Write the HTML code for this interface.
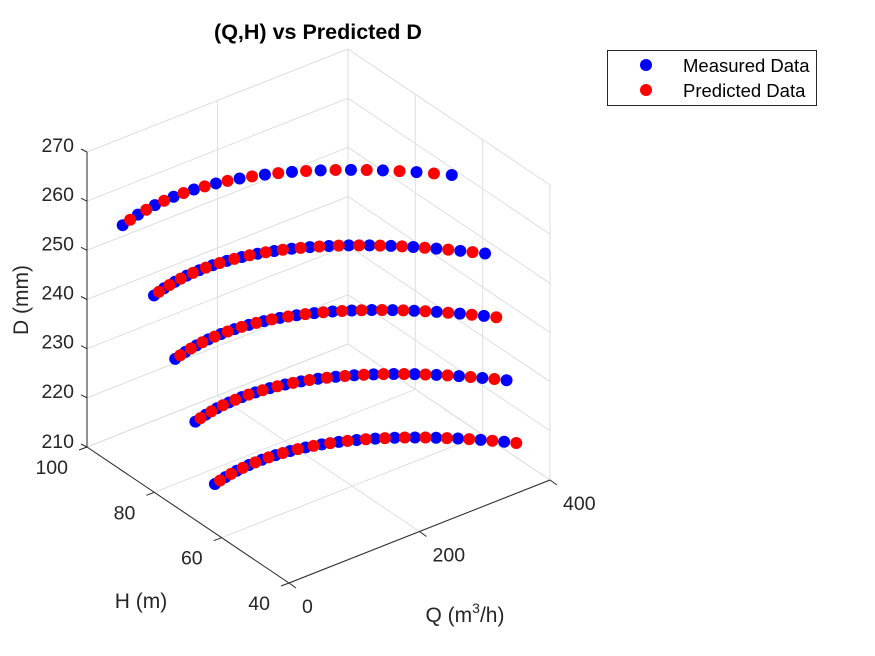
<!DOCTYPE html>
<html><head><meta charset="utf-8">
<style>
body{margin:0;background:#fff;}
svg{display:block;font-family:"Liberation Sans",Arial,sans-serif;}
</style></head>
<body>
<svg id="chart" width="875" height="656" viewBox="0 0 875 656">
<rect x="0" y="0" width="875" height="656" fill="#fff"/>
<g id="grid"></g>
<g id="axes"></g>
<g id="marks"></g>
<text x="318" y="39" text-anchor="middle" font-size="21.5" font-weight="bold" fill="#000">(Q,H) vs Predicted D</text>
<text x="28" y="300" text-anchor="middle" font-size="21" fill="#262626" transform="rotate(-90 28 300)">D (mm)</text>
<text x="141" y="608" text-anchor="middle" font-size="21" fill="#262626">H (m)</text>
<text x="465" y="622" text-anchor="middle" font-size="21" fill="#262626">Q (m<tspan dy="-9" font-size="14">3</tspan><tspan dy="9">/h)</tspan></text>
<g>
<rect x="607.5" y="50.5" width="209" height="55" fill="#fff" stroke="#262626" stroke-width="1"/>
<circle cx="646" cy="65" r="6" fill="#0000ff"/>
<text x="683" y="72" font-size="18.5" fill="#000">Measured Data</text>
<circle cx="646" cy="90" r="6" fill="#ff0000"/>
<text x="683" y="97" font-size="18.5" fill="#000">Predicted Data</text>
</g>
</svg>
<script>
const qTicks=[0,200,400];
const hTicks=[40,60,80,100];
const dTicks=[210,220,230,240,250,260,270];
const diameters=[220,230,240,250,260];

const q220m=[0,20,40,60,80,100,120,140,160,180,200,220,240,260,280,300,320,340];
const h220m=[62.00,62.76,63.27,63.54,63.57,63.36,62.91,62.21,61.28,60.10,58.68,57.02,55.12,52.97,50.58,47.96,45.09,41.98];
const q220p=[10,30,50,70,90,110,130,150,170,190,210,230,250,270,290,310,330,350];
const h220p=[62.41,63.04,63.44,63.59,63.50,63.16,62.59,61.78,60.72,59.42,57.88,56.10,54.08,51.81,49.30,46.56,43.56,40.33];

const q230m=[0,20,40,60,80,100,120,140,160,180,200,220,240,260,280,300,320,340,360];
const h230m=[67.80,68.60,69.15,69.46,69.53,69.36,68.95,68.29,67.40,66.26,64.88,63.26,61.40,59.29,56.94,54.36,51.53,48.46,45.15];
const q230p=[10,30,50,70,90,110,130,150,170,190,210,230,250,270,290,310,330,350];
const h230p=[68.23,68.90,69.34,69.53,69.48,69.18,68.65,67.88,66.86,65.60,64.10,62.36,60.38,58.15,55.68,52.98,50.02,46.83];

const q240m=[0,20,40,60,80,100,120,140,160,180,200,220,240,260,280,300,320,340,360];
const h240m=[73.80,74.64,75.23,75.58,75.69,75.56,75.19,74.57,73.72,72.62,71.28,69.70,67.88,65.81,63.50,60.96,58.17,55.14,51.87];
const q240p=[10,30,50,70,90,110,130,150,170,190,210,230,250,270,290,310,330,350,370];
const h240p=[74.25,74.96,75.44,75.67,75.66,75.40,74.91,74.18,73.20,71.98,70.52,68.82,66.88,64.69,62.26,59.60,56.68,53.53,50.15];

const q250m=[0,20,40,60,80,100,120,140,160,180,200,220,240,260,280,300,320,340,360,380];
const h250m=[80.10,80.98,81.61,82.00,82.15,82.06,81.73,81.15,80.34,79.28,77.98,76.44,74.66,72.63,70.36,67.86,65.11,62.12,58.89,55.41];
const q250p=[10,30,50,70,90,110,130,150,170,190,210,230,250,270,290,310,330,350,370];
const h250p=[80.57,81.32,81.84,82.11,82.14,81.92,81.47,80.78,79.84,78.66,77.24,75.58,73.68,71.53,69.14,66.52,63.64,60.53,57.19];

const q260m=[0,30,60,90,120,150,180,210,240,270,300,330,360,390];
const h260m=[89.40,90.67,91.45,91.72,91.50,90.78,89.56,87.85,85.64,82.93,79.74,76.07,71.90,67.24];
const q260p=[15,45,75,105,135,165,195,225,255,285,315,345,375];
const h260p=[90.10,91.12,91.64,91.67,91.21,90.23,88.77,86.80,84.34,81.40,77.97,74.04,69.63];

const measuredQ=[q220m,q230m,q240m,q250m,q260m];
const measuredH=[h220m,h230m,h240m,h250m,h260m];
const predictedQ=[q220p,q230p,q240p,q250p,q260p];
const predictedH=[h220p,h230p,h240p,h250p,h260p];

const Q0=0,Q1=400,H0=40,H1=100,D0=210,D1=270;
function px(q,h,d){return 289+(q-Q0)/(Q1-Q0)*261-(h-H0)/(H1-H0)*202;}
function py(q,h,d){return 583-(q-Q0)/(Q1-Q0)*103-(h-H0)/(H1-H0)*136-(d-D0)/(D1-D0)*295;}

const NS="http://www.w3.org/2000/svg";
function line(g,a,b,stroke,w,name){
  const l=document.createElementNS(NS,'line');
  l.setAttribute('x1',px(...a));l.setAttribute('y1',py(...a));
  l.setAttribute('x2',px(...b));l.setAttribute('y2',py(...b));
  l.setAttribute('stroke',stroke);l.setAttribute('stroke-width',w);
  
  
  g.appendChild(l);return l;
}
function txt(g,x,y,s,anchor,name){
  const t=document.createElementNS(NS,'text');
  t.setAttribute('x',x);t.setAttribute('y',y);t.setAttribute('text-anchor',anchor);
  t.setAttribute('font-size','19.5');t.setAttribute('fill','#262626');
  t.textContent=s;
  
  
  g.appendChild(t);
}
const grid=document.getElementById('grid');
const gc='#dedede';
qTicks.forEach(q=>line(grid,[q,H0,D0],[q,H1,D0],gc,1,'grid-floor-q'));
hTicks.forEach(h=>line(grid,[Q0,h,D0],[Q1,h,D0],gc,1,'grid-floor-h'));
qTicks.forEach(q=>line(grid,[q,H1,D0],[q,H1,D1],gc,1,'grid-backwall-q'));
dTicks.forEach(d=>line(grid,[Q0,H1,d],[Q1,H1,d],gc,1,'grid-backwall-d'));
hTicks.forEach(h=>line(grid,[Q1,h,D0],[Q1,h,D1],gc,1,'grid-rightwall-h'));
dTicks.forEach(d=>line(grid,[Q1,H0,d],[Q1,H1,d],gc,1,'grid-rightwall-d'));

const axes=document.getElementById('axes');
const ac='#262626';
line(axes,[Q0,H1,D0],[Q0,H1,D1],ac,1,'z-axis-line');
line(axes,[Q0,H1,D0],[Q0,H0,D0],ac,1,'h-axis-line');
line(axes,[Q0,H0,D0],[Q1,H0,D0],ac,1,'q-axis-line');
dTicks.forEach(d=>{
  const x=px(Q0,H1,d),y=py(Q0,H1,d);
  const l=document.createElementNS(NS,'line');
  l.setAttribute('x1',x);l.setAttribute('y1',y);l.setAttribute('x2',x-6);l.setAttribute('y2',y-3);
  l.setAttribute('stroke',ac);
  
  
  axes.appendChild(l);
  txt(axes,x-13,y+(d===D0?1:0),String(d),'end','z-tick-label');
});
hTicks.forEach(h=>{
  const x=px(Q0,h,D0),y=py(Q0,h,D0);
  const l=document.createElementNS(NS,'line');
  l.setAttribute('x1',x);l.setAttribute('y1',y);l.setAttribute('x2',x-8);l.setAttribute('y2',y+3);
  l.setAttribute('stroke',ac);
  
  
  axes.appendChild(l);
  txt(axes,x-19,y+27,String(h),'end','h-tick-label');
});
qTicks.forEach(q=>{
  const x=px(q,H0,D0),y=py(q,H0,D0);
  const l=document.createElementNS(NS,'line');
  l.setAttribute('x1',x);l.setAttribute('y1',y);l.setAttribute('x2',x+7);l.setAttribute('y2',y+5);
  l.setAttribute('stroke',ac);
  
  
  axes.appendChild(l);
  txt(axes,x+13,y+30,String(q),'start','q-tick-label');
});

const marks=document.getElementById('marks');
function dot(q,h,d,color,name){
  const c=document.createElementNS(NS,'circle');
  c.setAttribute('cx',px(q,h,d));c.setAttribute('cy',py(q,h,d));
  c.setAttribute('r','6');c.setAttribute('fill',color);
  
  
  marks.appendChild(c);
}
diameters.forEach((d,i)=>{
  measuredQ[i].forEach((q,j)=>dot(q,measuredH[i][j],d,'#0000ff','measured-point'));
  predictedQ[i].forEach((q,j)=>dot(q,predictedH[i][j],d,'#ff0000','predicted-point'));
});
</script>
</body></html>
